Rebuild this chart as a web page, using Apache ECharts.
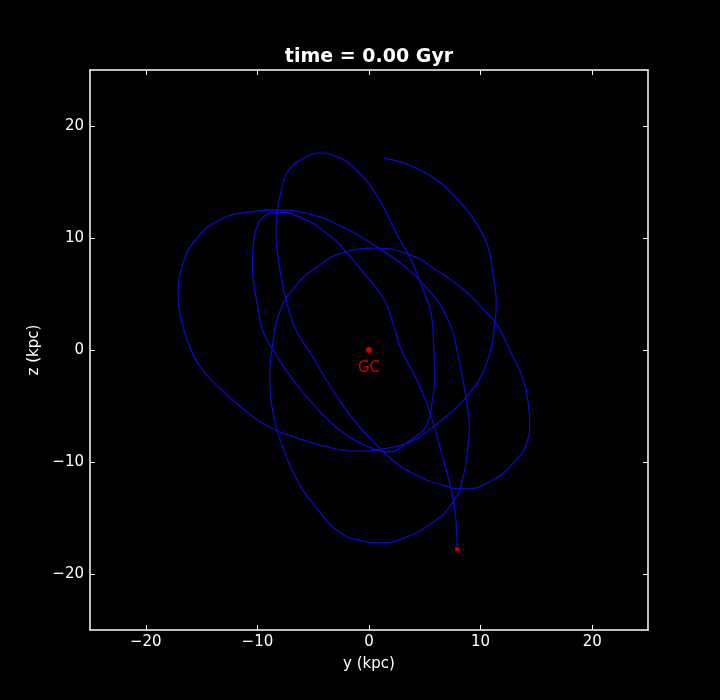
<!DOCTYPE html>
<html>
<head>
<meta charset="utf-8">
<script src="https://cdn.jsdelivr.net/npm/echarts@6/dist/echarts.min.js"></script>
<style>
html, body { margin: 0; background: #000; }
#chart { width: 720px; height: 700px; }
</style>
</head>
<body>
<div id="chart"></div>
<script>
// orbit projected on the y-z plane, kpc, in time order
var orbitY = [1.3, 2.8, 4.3, 5.9, 7.3, 8.4, 9.3, 10.6, 11.1, 11.4,
    11.25, 11.0, 10.2, 8.8, 7.3, 5.7, 3.7, 1.4, -1.0, -2.8,
    -4.4, -6.6, -8.9, -11.1, -13.4, -15.2, -16.1, -16.8, -17.1, -16.7,
    -15.4, -13.4, -10.9, -8.3, -5.6, -2.6, 0.4, 3.4, 5.2, 6.4,
    7.3, 7.8, 8.4, 8.85, 9.0, 8.85, 8.4, 7.5, 5.7, 2.8,
    1.0, -0.8, -2.6, -4.4, -6.5, -8.0, -8.6, -8.9, -8.7, -8.0,
    -6.5, -4.4, -2.6, 0.4, 3.4, 6.4, 8.6, 10.2, 11.5, 12.6,
    13.8, 14.3, 14.4, 14.2, 12.9, 10.9, 8.6, 6.4, 4.1, 2.2,
    0.4, -0.8, -2.3, -3.8, -5.3, -6.5, -7.3, -7.9, -8.2, -8.35,
    -8.2, -7.8, -7.1, -5.7, -4.6, -3.0, -1.5, 0.7, 2.5, 3.7,
    4.8, 5.6, 5.8, 5.9, 5.7, 5.2, 3.9, 1.6, 0.1, -1.7,
    -3.8, -5.9, -7.5, -8.6, -9.5, -10.0, -10.35, -10.45, -10.35, -10.0,
    -9.3, -8.2, -5.6, -3.9, -2.6, -0.5, 1.3, 2.2, 2.9, 4.3,
    5.5, 6.6, 7.4, 7.8, 7.9];
var orbitZ = [17.1, 16.8, 16.2, 15.3, 14.1, 12.9, 11.8, 9.4, 6.9, 4.1,
    2.2, 0.4, -2.0, -4.1, -5.6, -6.9, -8.2, -8.8, -9.05, -8.85,
    -8.5, -7.8, -6.9, -5.4, -3.4, -1.4, 0.4, 2.6, 4.9, 7.6,
    10.0, 11.6, 12.3, 12.5, 12.2, 11.1, 9.4, 7.3, 5.5, 4.0,
    2.2, 0.4, -2.6, -5.3, -7.0, -8.7, -11.5, -13.6, -15.4, -16.9,
    -17.2, -17.0, -16.3, -14.5, -11.5, -7.9, -5.6, -2.6, 0.0, 3.4,
    5.8, 7.6, 8.6, 9.1, 8.6, 6.9, 5.3, 3.7, 2.2, 0.0,
    -2.6, -5.0, -6.6, -8.1, -10.1, -11.7, -12.4, -12.0, -11.1, -9.9,
    -8.2, -6.9, -5.0, -2.7, -0.2, 1.7, 4.0, 6.7, 8.6, 10.6,
    12.6, 14.5, 16.2, 17.2, 17.6, 17.3, 16.4, 13.8, 10.3, 8.2,
    5.5, 3.1, 0.4, -2.6, -4.3, -6.6, -7.9, -9.1, -8.7, -7.8,
    -6.1, -3.8, -1.7, 0.0, 1.7, 4.0, 6.2, 7.9, 9.6, 11.1,
    12.0, 12.3, 11.6, 10.5, 9.4, 6.9, 4.6, 2.2, 0.0, -2.7,
    -5.7, -9.6, -12.6, -15.3, -17.8];
var tickValues = [-20, -10, 0, 10, 20];
var gcPoint = [0, 0];

var orbit = orbitY.map(function (y, i) { return [y, orbitZ[i]]; });
var last = orbit[orbit.length - 1];

var font = 'DejaVu Sans';
function fmt(v) { return v < 0 ? '\u2212' + (-v) : String(v); }

function axis(pos, show) {
    return {
        type: 'value',
        position: pos,
        min: -25,
        max: 25,
        axisLine: { show: true, onZero: false, lineStyle: { color: '#fff', width: 1.5 } },
        axisTick: { show: true, inside: true, length: 5, customValues: tickValues, lineStyle: { color: '#fff', width: 1 } },
        axisLabel: { show: show, customValues: tickValues, color: '#fff', fontSize: 15, fontFamily: font, formatter: fmt },
        splitLine: { show: false }
    };
}

var xb = axis('bottom', true);
xb.name = 'y (kpc)';
xb.nameLocation = 'middle';
xb.nameGap = 27;
xb.nameTextStyle = { color: '#fff', fontSize: 15, fontFamily: font };
xb.axisLabel.margin = 5;
var xt = axis('top', false);

var yl = axis('left', true);
yl.name = 'z (kpc)';
yl.nameLocation = 'middle';
yl.nameGap = 43;
yl.nameTextStyle = { color: '#fff', fontSize: 15, fontFamily: font };
yl.axisLabel.margin = 6;
var yr = axis('right', false);

var chart = echarts.init(document.getElementById('chart'));
chart.setOption({
    backgroundColor: '#000',
    animation: false,
    title: {
        text: 'time = 0.00 Gyr',
        left: 369,
        textAlign: 'center',
        top: 48,
        padding: 0,
        textStyle: { color: '#fff', fontSize: 19, fontWeight: 'bold', fontFamily: font }
    },
    grid: { left: 90, right: 72, top: 70, bottom: 70 },
    xAxis: [xb, xt],
    yAxis: [yl, yr],
    series: [
        {
            type: 'line',
            data: orbit,
            showSymbol: false,
            smooth: 0.5,
            lineStyle: { color: '#0a0ac8', width: 1.3 }
        },
        {
            type: 'scatter',
            data: [last],
            symbol: 'rect',
            symbolSize: 4,
            itemStyle: { color: '#ff0000' },
            z: 3
        },
        {
            type: 'scatter',
            data: [gcPoint],
            symbolSize: 6,
            itemStyle: { color: '#ff0000' },
            label: {
                show: true,
                formatter: 'GC',
                position: 'bottom',
                distance: 8,
                color: '#ff0000',
                fontSize: 15,
                fontFamily: font
            },
            z: 3
        }
    ]
});
</script>
</body>
</html>
